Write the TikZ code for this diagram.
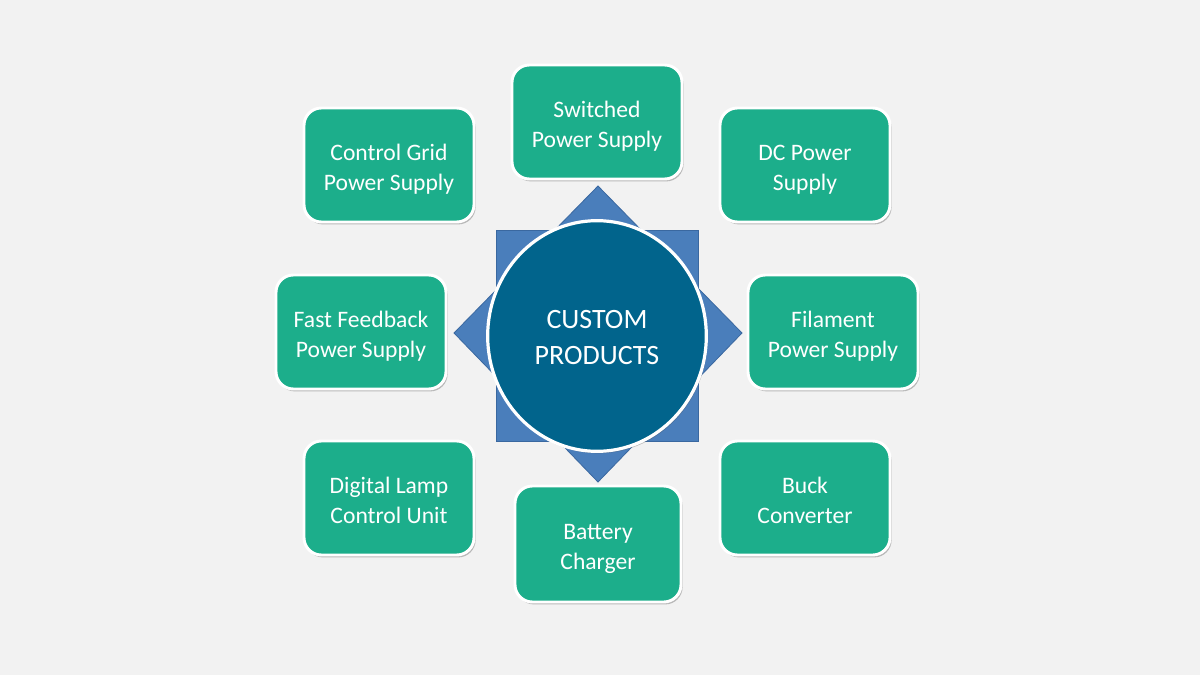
\documentclass[tikz,border=0pt]{standalone}
\usepackage{fontspec}
\setmainfont{Carlito}
\usetikzlibrary{shadows,shapes.geometric}
\definecolor{bgc}{HTML}{F2F2F2}
\definecolor{boxc}{HTML}{1CAE8B}
\definecolor{starc}{HTML}{4A7EBB}
\definecolor{stareg}{HTML}{3A68A0}
\definecolor{circc}{HTML}{01648C}
\tikzset{
  prodbox/.style={rectangle, rounded corners=13pt, fill=boxc, draw=white, line width=2.2pt,
    minimum width=127.5pt, minimum height=85.5pt, align=center, text=white,
    font=\fontsize{17.7}{22.5}\selectfont, text height=40pt, text depth=2.5pt,
    drop shadow={shadow xshift=1.2pt, shadow yshift=-1.8pt, opacity=0.35, fill=black!70}},
  starshape/.style={fill=starc, draw=stareg, line width=0.6pt},
}
\begin{document}
\begin{tikzpicture}[x=0.75pt,y=-0.75pt]
\useasboundingbox (0,0) rectangle (1200,675);
\fill[bgc] (0,0) rectangle (1200,675);
% star behind the circle
\draw[starshape] (496,230) rectangle (698,441);
\draw[starshape] (598,186) -- (742,333) -- (598,482) -- (454,333) -- cycle;
\node[ellipse, fill=circc, draw=white, line width=2.4pt, minimum width=164pt, minimum height=173pt,
  drop shadow={shadow xshift=1pt, shadow yshift=-1.5pt, opacity=0.3, fill=black!70},
  align=center, text=white, font=\fontsize{21}{27}\selectfont,
  text height=45pt, text depth=3pt] (center) at (597,336) {CUSTOM\\PRODUCTS};
% product boxes
\node[prodbox] (switched) at (597,122) {Switched\\Power Supply};
\node[prodbox] (dc) at (805,165) {DC Power\\Supply};
\node[prodbox] (grid) at (389,165) {Control Grid\\Power Supply};
\node[prodbox] (fast) at (361,332) {Fast Feedback\\Power Supply};
\node[prodbox] (filament) at (833,332) {Filament\\Power Supply};
\node[prodbox] (lamp) at (389,498) {Digital Lamp\\Control Unit};
\node[prodbox] (buck) at (805,498) {Buck\\Converter};
\node[prodbox, minimum width=124.5pt, minimum height=87pt] (battery) at (598,544) {Battery\\Charger};
\end{tikzpicture}
\end{document}
